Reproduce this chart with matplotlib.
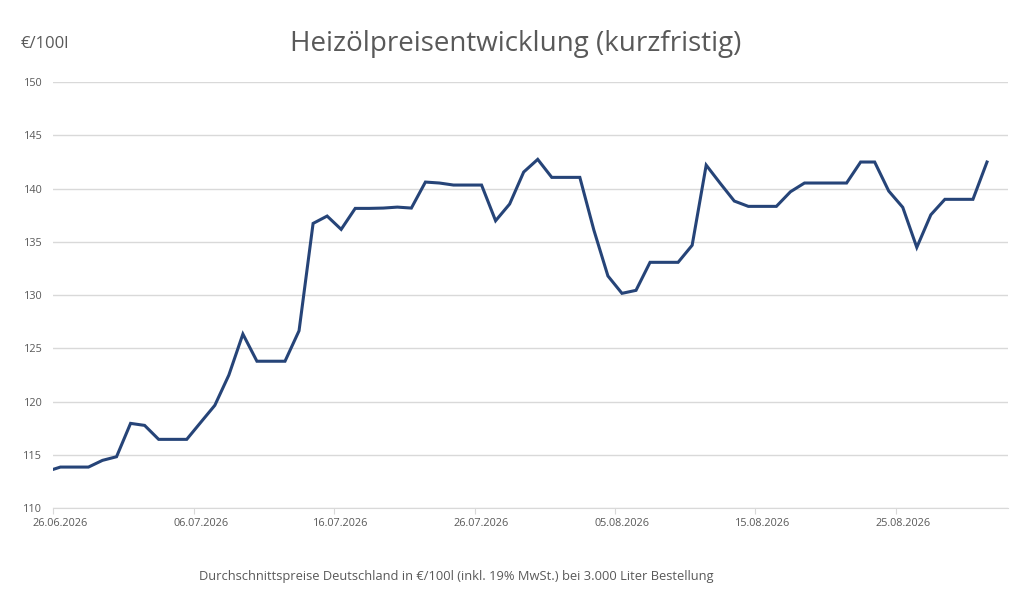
import matplotlib

matplotlib.use("Agg")
import matplotlib.dates as mdates  # noqa: E402
import matplotlib.pyplot as plt  # noqa: E402
import pandas as pd  # noqa: E402

# daily prices, 25.06.2026 .. 31.08.2026 (first day only partly visible)
START = "2026-06-25"
PRICES = [
    113.45,
    113.87, 113.87, 113.87, 114.50, 114.84, 117.97, 117.78, 116.47, 116.47, 116.47,
    118.07, 119.66, 122.50, 126.35, 123.80, 123.80, 123.80, 126.66, 136.73, 137.42,
    136.17, 138.14, 138.14, 138.17, 138.26, 138.17, 140.61, 140.52, 140.33, 140.33,
    140.33, 136.98, 138.55, 141.55, 142.74, 141.05, 141.05, 141.05, 136.10, 131.80,
    130.17, 130.45, 133.08, 133.08, 133.08, 134.68, 142.20, 140.49, 138.83, 138.33,
    138.33, 138.33, 139.70, 140.52, 140.52, 140.52, 140.52, 142.49, 142.49, 139.77,
    138.24, 134.48, 137.54, 138.99, 138.99, 138.99, 142.49,
]
TITLE = "Heizölpreisentwicklung (kurzfristig)"
UNIT = "€/100l"
NOTE = "Durchschnittspreise Deutschland in €/100l (inkl. 19% MwSt.) bei 3.000 Liter Bestellung"
Y_TICKS = [110, 115, 120, 125, 130, 135, 140, 145, 150]

GREY = "#595959"
LINE = "#264478"

plt.rcParams["font.family"] = ["Open Sans", "DejaVu Sans"]

# each day is drawn in the middle of its category, like the source chart
half_day = pd.Timedelta(hours=12)
dates = pd.date_range(START, periods=len(PRICES), freq="D") + half_day
tick_days = pd.date_range("2026-06-26", "2026-09-01", freq="10D")

fig = plt.figure(figsize=(10.34, 6.05), dpi=100)
ax = fig.add_axes([0.0516, 0.1598, 0.9233, 0.7047])

ax.plot(dates, PRICES, color=LINE, lw=2.2, solid_joinstyle="miter")

ax.set_xlim(pd.Timestamp("2026-06-26"), pd.Timestamp("2026-09-02"))
ax.set_ylim(110, 150)
ax.set_yticks(Y_TICKS)
# marks at the category borders, labels centred on the day
ax.set_xticks(tick_days)
ax.set_xticklabels([])
ax.set_xticks(tick_days + half_day, minor=True)
ax.xaxis.set_minor_formatter(mdates.DateFormatter("%d.%m.%Y"))

ax.grid(axis="y", color="#d9d9d9", lw=1.0)
ax.set_axisbelow(True)
for s in ("top", "right", "left"):
    ax.spines[s].set_visible(False)
ax.spines["bottom"].set_color("#d9d9d9")
ax.tick_params(axis="y", length=0, pad=8, labelsize=7.8, labelcolor=GREY)
ax.tick_params(axis="x", which="major", length=4, color="#d9d9d9")
ax.tick_params(axis="x", which="minor", length=0, pad=7, labelsize=7.8, labelcolor=GREY)

fig.text(0.499, 0.927, TITLE, ha="center", va="center", fontsize=20, color=GREY)
fig.text(0.0435, 0.928, UNIT, ha="center", va="center", fontsize=12, color=GREY)
fig.text(0.441, 0.047, NOTE, ha="center", va="center", fontsize=9.3, color=GREY)

fig.savefig("out.png", dpi=100)
